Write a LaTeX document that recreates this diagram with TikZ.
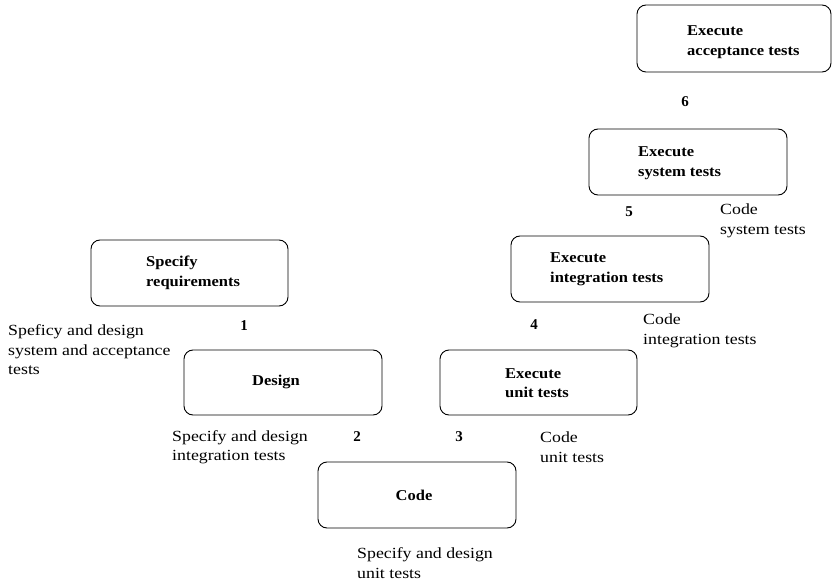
\documentclass[tikz,border=0pt]{standalone}
\usepackage{fontspec}
\setmainfont{Liberation Serif}
\newfontfamily\notefont[FakeStretch=1.15]{Liberation Serif}
\newfontfamily\titlefont[FakeStretch=1.1]{Liberation Serif}
\begin{document}
\begin{tikzpicture}[x=1pt,y=-1pt,
  stage/.style={draw, line width=0.9pt, rounded corners=9pt},
  title/.style={font=\titlefont\fontsize{15}{19.5}\selectfont\bfseries, align=left, inner sep=0pt, anchor=west},
  num/.style={font=\fontsize{15}{18}\selectfont\bfseries, inner sep=0pt},
  note/.style={font=\notefont\fontsize{15.5}{19.5}\selectfont, align=left, inner sep=0pt, anchor=west}]
\useasboundingbox (0,0) rectangle (833,583);
% boxes
\draw[stage] (91,240) rectangle (288,306);
\node[title] (req) at (146,273) {Specify\\requirements};
\draw[stage] (184,350) rectangle (382,415);
\node[title, anchor=center] (des) at (276,382) {Design};
\draw[stage] (318,462) rectangle (516,528);
\node[title, anchor=center] (code) at (414,495) {Code};
\draw[stage] (440,350) rectangle (637,415);
\node[title] (unit) at (505,383) {Execute\\unit tests};
\draw[stage] (511,236) rectangle (709,302);
\node[title] (integ) at (550,269) {Execute\\integration tests};
\draw[stage] (589,129) rectangle (787,195);
\node[title] (sys) at (638,163) {Execute\\system tests};
\draw[stage] (637,5) rectangle (831,72);
\node[title] (acc) at (687,42) {Execute\\acceptance tests};
% numbers
\node[num] (n1) at (244,326) {1};
\node[num] (n2) at (357,437) {2};
\node[num] (n3) at (459,437) {3};
\node[num] (n4) at (534,325) {4};
\node[num] (n5) at (629,212) {5};
\node[num] (n6) at (685,102) {6};
% notes
\node[note] (l1) at (8,350) {Speficy and design\\system and acceptance\\tests};
\node[note] (l2) at (172,447) {Specify and design\\integration tests};
\node[note] (l3) at (357,563) {Specify and design\\unit tests};
\node[note] (l4) at (540,447) {Code\\unit tests};
\node[note] (l5) at (643,331) {Code\\integration tests};
\node[note] (l6) at (720,221) {Code\\system tests};
\end{tikzpicture}
\end{document}
